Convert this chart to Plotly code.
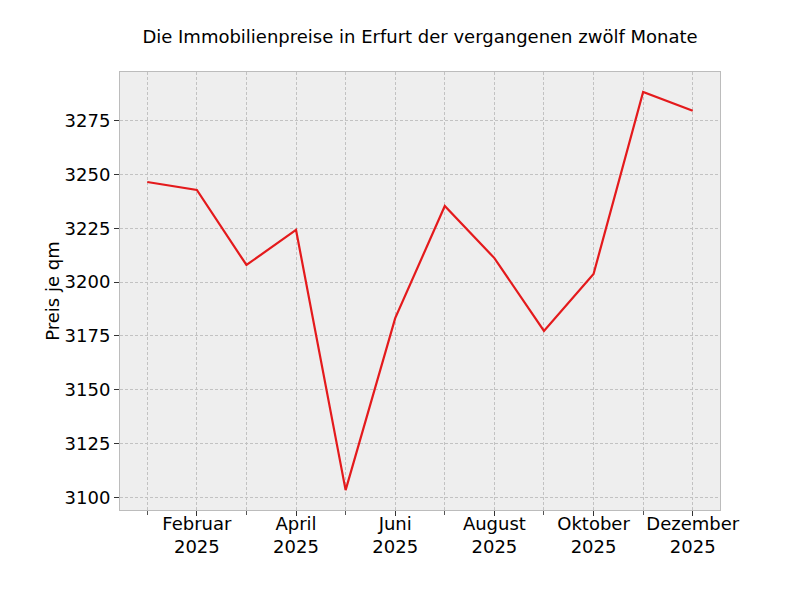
import plotly.graph_objects as go

months = ["Januar", "Februar", "März", "April", "Mai", "Juni",
          "Juli", "August", "September", "Oktober", "November", "Dezember"]
prices = [3246.6, 3242.9, 3208.0, 3224.3, 3103.3, 3183.3, 3235.4, 3211.2, 3177.3, 3203.8, 3288.5, 3279.7]
year = "2025"
y_ticks = [3100, 3125, 3150, 3175, 3200, 3225, 3250, 3275]

title = "Die Immobilienpreise in Erfurt der vergangenen zwölf Monate"
ylabel = "Preis je qm"

xi = list(range(len(months)))
major_idx = xi[1::2]
minor_idx = xi[0::2]
major_labels = [f"{months[i]}<br>{year}" for i in major_idx]

n = len(months) - 1
xr = [-0.05 * n, n + 0.05 * n]
ymin, ymax = min(prices), max(prices)
yr = [ymin - (ymax - ymin) * 0.05, ymax + (ymax - ymin) * 0.05]

font = "DejaVu Sans"
fig = go.Figure(go.Scatter(x=xi, y=prices, mode="lines",
                           line=dict(color="#E41A1C", width=2.2)))

gc = "#c2c2c2"
gdash = "3px,2px"

fig.update_layout(
    width=792, height=592,
    paper_bgcolor="white", plot_bgcolor="#eeeeee",
    margin=dict(l=112, r=80, t=64, b=90),
    showlegend=False,
    font=dict(family=font, size=18, color="black"),
    title=dict(text=title, x=0.5, xref="paper", y=1 - 29 / 592, yref="container",
               xanchor="center", yanchor="middle", font=dict(family=font, size=18, color="black")),
    xaxis=dict(range=xr, tickmode="array", tickvals=major_idx, ticktext=major_labels,
               ticks="outside", ticklen=5, tickcolor="#333", tickwidth=1, ticklabelstandoff=-8,
               showline=True, linecolor="#bcbcbc", linewidth=1, mirror=True,
               zeroline=False, tickfont=dict(size=18),
               showgrid=True, gridcolor=gc, gridwidth=0.8, griddash=gdash,
               minor=dict(tickmode="array", tickvals=minor_idx, ticks="outside",
                          ticklen=4, tickcolor="#555", showgrid=True, gridcolor=gc,
                          gridwidth=0.8, griddash=gdash)),
    yaxis=dict(range=yr, tickmode="array", tickvals=y_ticks,
               ticks="outside", ticklen=5, tickcolor="#333", tickwidth=1,
               showline=True, linecolor="#bcbcbc", linewidth=1, mirror=True,
               zeroline=False, tickfont=dict(size=18),
               showgrid=True, gridcolor=gc, gridwidth=0.8, griddash=gdash,
               title=dict(text=ylabel, font=dict(size=18), standoff=0)),
)

fig.write_html("out.html")
